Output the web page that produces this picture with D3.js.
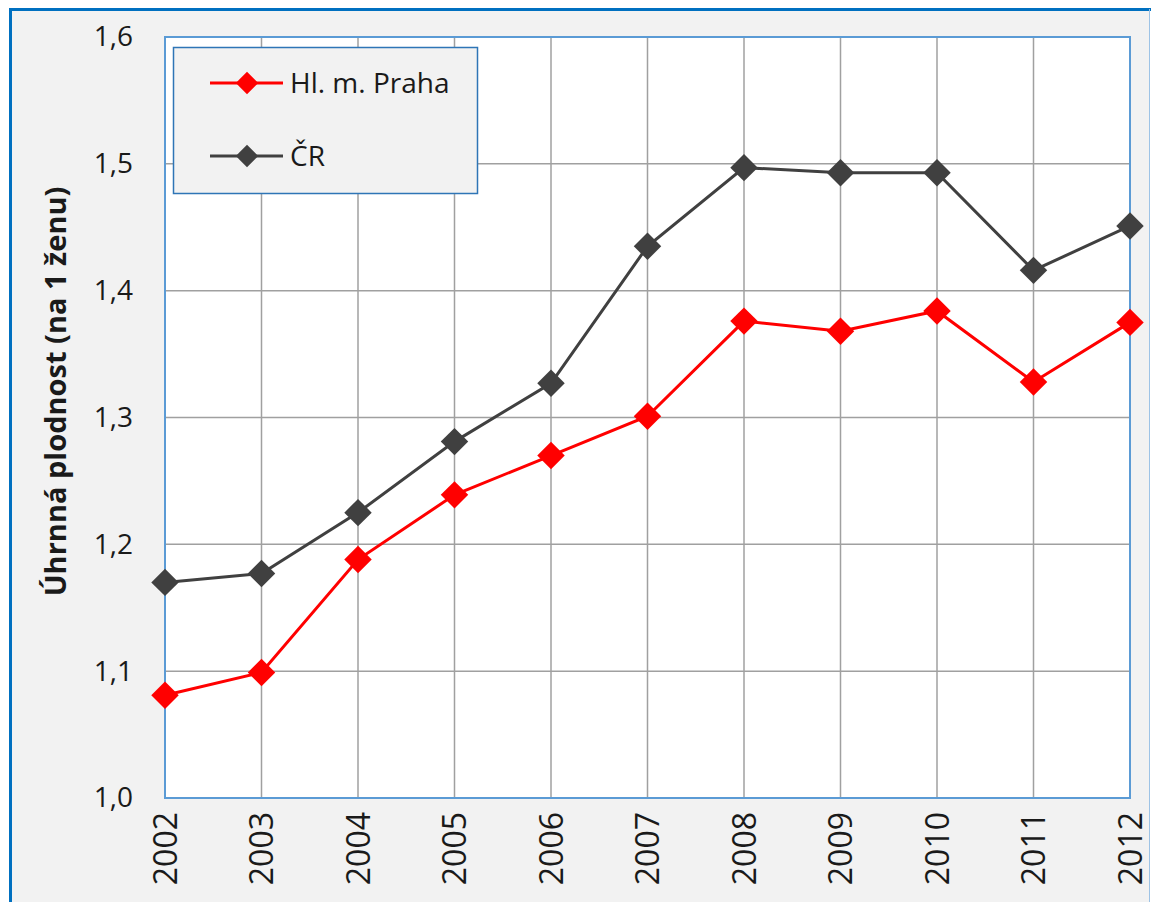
<!DOCTYPE html>
<html>
<head>
<meta charset="utf-8">
<script src="https://cdn.jsdelivr.net/npm/d3@7"></script>
<style>
  body { margin: 0; background: #fff; }
  text { font-family: "Open Sans", "Noto Sans", sans-serif; fill: #1a1a1a; }
</style>
</head>
<body>
<div id="chart"></div>
<script>
//
// Data
//
var years = ["2002","2003","2004","2005","2006","2007","2008","2009","2010","2011","2012"];
var praha = [1.081, 1.099, 1.188, 1.239, 1.270, 1.301, 1.376, 1.368, 1.384, 1.328, 1.375];
var cr    = [1.170, 1.177, 1.225, 1.281, 1.327, 1.435, 1.497, 1.493, 1.493, 1.416, 1.451];
var seriesNames = ["Hl. m. Praha", "ČR"];
var yTicks = [1.0, 1.1, 1.2, 1.3, 1.4, 1.5, 1.6];

//
// Global Vars
//
var W = 1151, H = 902;
var plot = { left: 165, right: 1130, top: 37, bottom: 798 };
var colors = ["#ff0000", "#404040"];

var svg = d3.select("#chart").append("svg")
    .attr("width", W)
    .attr("height", H);

// outer frame
svg.append("rect")
    .attr("x", 10.5).attr("y", 9.5)
    .attr("width", 1139).attr("height", 900)
    .attr("fill", "#f2f2f2")
    .attr("stroke", "none");
svg.append("line").attr("x1", 10.5).attr("x2", 10.5).attr("y1", 8).attr("y2", H)
    .attr("stroke", "#0070c0").attr("stroke-width", 3);
svg.append("line").attr("x1", 9).attr("x2", 1151).attr("y1", 9.5).attr("y2", 9.5)
    .attr("stroke", "#0070c0").attr("stroke-width", 3);
svg.append("line").attr("x1", 1149.5).attr("x2", 1149.5).attr("y1", 9).attr("y2", H)
    .attr("stroke", "#9dc3e6").attr("stroke-width", 1);

var x = d3.scalePoint().domain(years).range([plot.left, plot.right]);
var y = d3.scaleLinear().domain([1.0, 1.6]).range([plot.bottom, plot.top]);

// plot area
svg.append("rect")
    .attr("x", plot.left).attr("y", plot.top)
    .attr("width", plot.right - plot.left)
    .attr("height", plot.bottom - plot.top)
    .attr("fill", "#fff");

// grid
svg.append("g").selectAll("line")
    .data(yTicks)
    .enter().append("line")
    .attr("x1", plot.left).attr("x2", plot.right)
    .attr("y1", function(d) { return y(d); })
    .attr("y2", function(d) { return y(d); })
    .attr("stroke", "#a0a0a0").attr("stroke-width", 1.5);

svg.append("g").selectAll("line")
    .data(years)
    .enter().append("line")
    .attr("x1", function(d) { return x(d); })
    .attr("x2", function(d) { return x(d); })
    .attr("y1", plot.top).attr("y2", plot.bottom)
    .attr("stroke", "#a0a0a0").attr("stroke-width", 1.5);

// plot border
svg.append("rect")
    .attr("x", plot.left).attr("y", plot.top)
    .attr("width", plot.right - plot.left)
    .attr("height", plot.bottom - plot.top)
    .attr("fill", "none")
    .attr("stroke", "#5b9bd5").attr("stroke-width", 2);

// y axis labels
var yAxis = d3.axisLeft(y)
    .tickValues(yTicks)
    .tickSize(0)
    .tickPadding(32)
    .tickFormat(function(d) { return d3.format(".1f")(d).replace(".", ","); });

var yg = svg.append("g")
    .attr("transform", "translate(" + plot.left + ",0)")
    .call(yAxis);
yg.select(".domain").remove();
yg.selectAll("text")
    .style("font-size", "28px")
    .style("font-family", "'Open Sans', sans-serif")
    .attr("fill", "#1a1a1a");

// x axis labels
var xAxis = d3.axisBottom(x).tickSize(0);
var xg = svg.append("g")
    .attr("transform", "translate(0," + plot.bottom + ")")
    .call(xAxis);
xg.select(".domain").remove();
xg.selectAll("text")
    .style("font-size", "32px")
    .style("font-family", "'Open Sans', sans-serif")
    .attr("fill", "#1a1a1a")
    .attr("text-anchor", "end")
    .attr("dy", "0.35em")
    .attr("transform", "translate(0,14) rotate(-90)")
    .attr("x", 0).attr("y", 0);

// y title
svg.append("text")
    .attr("transform", "translate(66," + ((plot.top + plot.bottom) / 2 - 26) + ") rotate(-90)")
    .attr("text-anchor", "middle")
    .style("font-size", "29px")
    .style("font-weight", "bold")
    .text("Úhrnná plodnost (na 1 ženu)");

// lines
var line = d3.line()
    .x(function(d, i) { return x(years[i]); })
    .y(function(d) { return y(d); });

var diamond = d3.symbol().type(d3.symbolDiamond2).size(480);

[praha, cr].slice().reverse().forEach(function(s, k) {
    var idx = 1 - k;
    svg.append("path")
        .datum(s)
        .attr("d", line)
        .attr("fill", "none")
        .attr("stroke", colors[idx])
        .attr("stroke-width", 3);
    svg.append("g").selectAll("path")
        .data(s)
        .enter().append("path")
        .attr("d", diamond)
        .attr("transform", function(d, i) {
            return "translate(" + x(years[i]) + "," + y(d) + ")";
        })
        .attr("fill", colors[idx]);
});

// legend
var legend = svg.append("g");
legend.append("rect")
    .attr("x", 173.5).attr("y", 47.5)
    .attr("width", 304).attr("height", 146)
    .attr("fill", "#f2f2f2")
    .attr("stroke", "#2e75b6").attr("stroke-width", 1.5);

var legendY = [83, 156];
seriesNames.forEach(function(name, i) {
    legend.append("line")
        .attr("x1", 210).attr("x2", 283)
        .attr("y1", legendY[i]).attr("y2", legendY[i])
        .attr("stroke", colors[i]).attr("stroke-width", 3);
    legend.append("path")
        .attr("d", d3.symbol().type(d3.symbolDiamond2).size(320))
        .attr("transform", "translate(247," + legendY[i] + ")")
        .attr("fill", colors[i]);
    legend.append("text")
        .attr("x", 290).attr("y", legendY[i])
        .attr("dy", "0.35em")
        .style("font-size", "28px")
        .text(name);
});
</script>
</body>
</html>
